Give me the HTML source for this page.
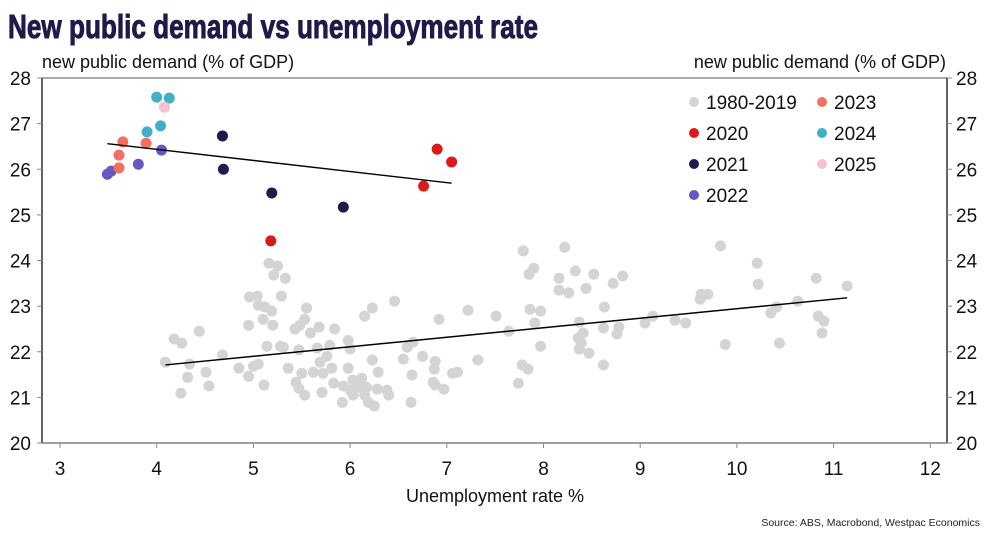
<!DOCTYPE html>
<html><head><meta charset="utf-8"><style>
html,body{margin:0;padding:0;background:#fff;width:990px;height:540px;overflow:hidden}
text{font-family:"Liberation Sans",sans-serif}
</style></head><body>
<svg id="chart" width="990" height="540" viewBox="0 0 990 540">
<text x="8" y="38" font-size="33" font-weight="bold" fill="#1e1b4b" stroke="#1e1b4b" stroke-width="0.9" textLength="530" lengthAdjust="spacingAndGlyphs">New public demand vs unemployment rate</text>
<text x="42" y="68" font-size="18" fill="#111">new public demand (% of GDP)</text>
<text x="946" y="68" font-size="18" fill="#111" text-anchor="end">new public demand (% of GDP)</text>
<text x="495" y="502" font-size="18" fill="#111" text-anchor="middle">Unemployment rate %</text>
<text x="980" y="526" font-size="10.5" fill="#222" text-anchor="end">Source: ABS, Macrobond, Westpac Economics</text>
<g id="axes"></g>
<g id="marks"></g>
<g id="legend"></g>
</svg>
<script>
const xTicks=[3,4,5,6,7,8,9,10,11,12];
const yTicks=[20,21,22,23,24,25,26,27,28];
const histX=[5.16,5.25,5.21,5.33,4.96,5.04,5.29,5.05,5.12,5.19,5.55,6.23,6.46,7.22,6.15,6.92,5.10,5.20,4.95,5.53,5.48,5.43,5.59,5.68,5.84,4.44,4.18,4.26,5.14,5.28,5.31,5.47,5.66,5.79,5.98,6.00,6.65,6.59,4.68,4.09,4.34,5.76,5.69,6.23,6.55,6.75,6.88,7.32,4.85,5.00,5.05,5.36,5.50,5.62,5.72,5.81,5.98,6.29,6.87,7.06,7.11,4.51,4.32,4.95,5.44,5.83,5.93,6.03,6.12,6.64,6.86,4.54,5.11,5.47,6.00,6.08,6.17,6.28,6.38,6.88,6.97,4.25,5.53,5.71,6.03,6.15,6.40,5.92,6.19,6.25,6.63,
7.79,8.22,9.83,10.21,7.90,7.85,8.33,8.52,8.82,8.16,8.72,10.82,10.22,11.14,8.16,8.26,8.44,9.63,9.70,9.62,10.63,7.51,7.86,7.97,8.63,10.41,10.35,7.91,8.37,9.13,9.05,9.36,9.47,10.84,10.90,7.64,8.41,8.62,8.78,8.76,10.88,8.36,8.39,7.97,9.88,10.44,8.37,8.47,7.78,7.84,8.62,7.74];
const histY=[23.94,23.88,23.68,23.61,23.20,23.22,23.22,23.02,22.98,22.89,22.96,22.96,23.11,22.91,22.78,22.71,22.71,22.58,22.58,22.71,22.58,22.50,22.41,22.54,22.50,22.45,22.28,22.19,22.12,22.12,22.10,22.04,22.08,22.14,22.25,22.06,22.21,22.10,21.93,21.77,21.73,21.90,21.77,21.82,21.84,21.90,21.79,21.82,21.64,21.68,21.73,21.64,21.53,21.55,21.53,21.64,21.64,21.55,21.62,21.53,21.55,21.55,21.44,21.46,21.33,21.31,21.25,21.38,21.42,21.49,21.33,21.25,21.27,21.20,21.16,21.22,21.22,21.18,21.16,21.27,21.18,21.09,21.05,21.11,21.05,21.05,21.05,20.89,20.89,20.81,20.89,
24.21,24.29,24.32,23.94,23.83,23.70,23.77,23.70,23.66,23.61,23.50,23.61,23.48,23.44,23.35,23.29,23.39,23.26,23.26,23.15,23.11,22.78,22.93,22.89,22.98,22.98,22.85,22.63,22.65,22.78,22.63,22.69,22.63,22.78,22.67,22.45,22.41,22.52,22.54,22.39,22.41,22.30,22.19,22.12,22.16,22.19,22.06,21.97,21.71,21.62,21.71,21.31];
const recentYears=["2020","2020","2020","2020","2021","2021","2021","2021","2022","2022","2022","2022","2023","2023","2023","2023","2024","2024","2024","2024","2025"];
const recentX=[6.90,7.05,6.76,5.18,4.68,4.69,5.19,5.93,4.05,3.81,3.49,3.53,3.65,3.89,3.61,3.61,4.00,4.13,4.04,3.90,4.08];
const recentY=[26.44,26.16,25.63,24.43,26.73,26.00,25.48,25.17,26.42,26.11,25.89,25.96,26.60,26.57,26.31,26.03,27.58,27.56,26.95,26.82,27.36];
const legendLabels=["1980-2019","2020","2021","2022","2023","2024","2025"];
const legendColors=["#d4d4d4","#dc1a1a","#1f1a4d","#6a56c2","#f46f60","#3fb0c8","#f7bfd3"];

const NS="http://www.w3.org/2000/svg";
const L=42,R=947,T=78,B=443;
const xs=v=>60+(v-3)*96.7;
const ys=v=>B-(v-20)*(B-T)/8;
function mk(tag,attrs,parent){const e=document.createElementNS(NS,tag);for(const k in attrs)e.setAttribute(k,attrs[k]);parent.appendChild(e);return e;}
const axes=document.getElementById('axes'),marks=document.getElementById('marks'),leg=document.getElementById('legend');
let e;
e=mk('line',{x1:L,y1:T,x2:R,y2:T,stroke:'#555','stroke-width':1},axes);


e=mk('line',{x1:L,y1:T,x2:L,y2:B,stroke:'#111','stroke-width':1.3},axes);


e=mk('line',{x1:R,y1:T,x2:R,y2:B,stroke:'#111','stroke-width':1.3},axes);


e=mk('line',{x1:L,y1:B,x2:R,y2:B,stroke:'#666','stroke-width':1.3},axes);


yTicks.forEach(t=>{
 const y=ys(t);
 mk('line',{x1:L-5,y1:y,x2:L,y2:y,stroke:'#888'},axes);
 mk('line',{x1:R,y1:y,x2:R+5,y2:y,stroke:'#888'},axes);
 e=mk('text',{x:31,y:y+7,'font-size':19,'text-anchor':'end',fill:'#111'},axes);e.textContent=t;
 
 
 e=mk('text',{x:956,y:y+7,'font-size':19,fill:'#111'},axes);e.textContent=t;
 
 
});
xTicks.forEach(t=>{
 const x=xs(t);
 mk('line',{x1:x,y1:B,x2:x,y2:B+5,stroke:'#888'},axes);
 e=mk('text',{x:x,y:475,'font-size':19,'text-anchor':'middle',fill:'#111'},axes);e.textContent=t;
 
 
});
function ols(X,Y){const n=X.length;let mx=0,my=0;for(let i=0;i<n;i++){mx+=X[i];my+=Y[i];}mx/=n;my/=n;let sxy=0,sxx=0;for(let i=0;i<n;i++){sxy+=(X[i]-mx)*(Y[i]-my);sxx+=(X[i]-mx)**2;}const b=sxy/sxx;return [my-b*mx,b];}
histX.forEach((v,i)=>{
 e=mk('circle',{cx:xs(v),cy:ys(histY[i]),r:5.5,fill:'#d4d4d4'},marks);
 
 
});
function trend(X,Y,name){const [a,b]=ols(X,Y);const x0=Math.min(...X),x1=Math.max(...X);
 e=mk('line',{x1:xs(x0),y1:ys(a+b*x0),x2:xs(x1),y2:ys(a+b*x1),stroke:'#000','stroke-width':1.4},marks);
 
 }
trend(histX,histY,'trend-line-1980-2019');
recentX.forEach((v,i)=>{
 const c=legendColors[legendLabels.indexOf(recentYears[i])];
 e=mk('circle',{cx:xs(v),cy:ys(recentY[i]),r:5.5,fill:c},marks);
 
 
});
trend(recentX,recentY,'trend-line-2020-2025');
legendLabels.forEach((lab,i)=>{
 const col=i<4?0:1,row=i<4?i:i-4;
 const x=col?822:694,y=102+row*31;
 const g=mk('g',{},leg);
 
 
 mk('circle',{cx:x,cy:y,r:5,fill:legendColors[i]},g);
 const t=mk('text',{x:x+12,y:y+7,'font-size':19,fill:'#111'},g);t.textContent=lab;
});
</script>
</body></html>
